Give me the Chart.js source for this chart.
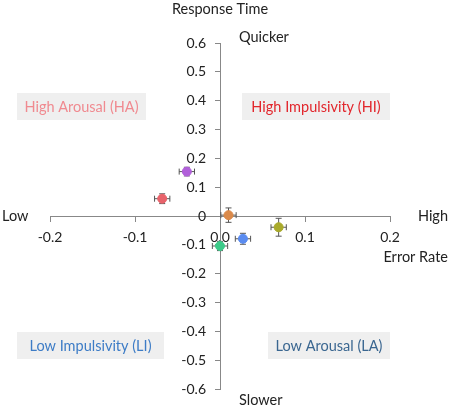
<!DOCTYPE html>
<html>
<head>
<meta charset="utf-8">
<script src="https://cdn.jsdelivr.net/npm/chart.js@4"></script>
<style>
  body { margin: 0; background: #fff; }
  #wrap { width: 454px; height: 411px; }
</style>
</head>
<body>
<div id="wrap"><canvas id="quadChart" width="454" height="411"></canvas></div>
<script>
// condition means: error rate (x) vs response time (y), with standard errors
const groups = ['red', 'purple', 'orange', 'olive', 'blue', 'green'];
const errorRate = [-0.068, -0.039, 0.010, 0.069, 0.027, 0.000];
const responseTime = [0.060, 0.154, 0.003, -0.039, -0.079, -0.104];
const errorRateSE = [0.009, 0.009, 0.009, 0.009, 0.009, 0.009];
const responseTimeSE = [0.017, 0.015, 0.025, 0.031, 0.019, 0.016];
const pointColors = ['#E8636B', '#B160DA', '#DB8A4A', '#A9AA2B', '#5B8CF0', '#3DCB8A'];

const xTicks = [-0.2, -0.1, 0, 0.1, 0.2];
const yTicks = [-0.6, -0.5, -0.4, -0.3, -0.2, -0.1, 0, 0.1, 0.2, 0.3, 0.4, 0.5, 0.6];

const FONT = 'Lato, "Open Sans", sans-serif';

// error bars, drawn under the markers
const errorBars = {
  id: 'errorBars',
  beforeDatasetsDraw(chart) {
    const ctx = chart.ctx;
    const xs = chart.scales.x, ys = chart.scales.y;
    ctx.save();
    ctx.strokeStyle = '#555';
    ctx.lineWidth = 1;
    const cap = 3;
    errorRate.forEach((xv, i) => {
      const px = xs.getPixelForValue(xv);
      const py = ys.getPixelForValue(responseTime[i]);
      const x1 = xs.getPixelForValue(xv - errorRateSE[i]);
      const x2 = xs.getPixelForValue(xv + errorRateSE[i]);
      const y1 = ys.getPixelForValue(responseTime[i] + responseTimeSE[i]);
      const y2 = ys.getPixelForValue(responseTime[i] - responseTimeSE[i]);
      ctx.beginPath();
      ctx.moveTo(x1, py); ctx.lineTo(x2, py);
      ctx.moveTo(x1, py - cap); ctx.lineTo(x1, py + cap);
      ctx.moveTo(x2, py - cap); ctx.lineTo(x2, py + cap);
      ctx.moveTo(px, y1); ctx.lineTo(px, y2);
      ctx.moveTo(px - cap, y1); ctx.lineTo(px + cap, y1);
      ctx.moveTo(px - cap, y2); ctx.lineTo(px + cap, y2);
      ctx.stroke();
    });
    ctx.restore();
  }
};

const fmt = v => Math.abs(v) < 1e-9 ? '0' : v.toFixed(1);

// y tick labels: the centred axis puts them flush on the line, so set them off a bit
const yLabels = {
  id: 'yLabels',
  afterDraw(chart) {
    const ctx = chart.ctx;
    const ys = chart.scales.y;
    const axisX = chart.scales.x.getPixelForValue(0);
    ctx.save();
    ctx.font = '14px ' + FONT;
    ctx.fillStyle = '#222';
    ctx.textAlign = 'right';
    ctx.textBaseline = 'middle';
    ys.ticks.forEach(t => {
      ctx.fillText(fmt(t.value), axisX - 14, ys.getPixelForValue(t.value));
    });
    ctx.restore();
  }
};

// axis titles and quadrant labels
const annotations = {
  id: 'annotations',
  afterDraw(chart) {
    const ctx = chart.ctx;
    ctx.save();
    ctx.font = '14.5px ' + FONT;
    ctx.textBaseline = 'middle';
    ctx.fillStyle = '#222';
    ctx.textAlign = 'center';
    ctx.fillText('Response Time', 220, 9);
    ctx.textAlign = 'left';
    ctx.fillText('Quicker', 239, 37);
    ctx.fillText('Slower', 239, 400);
    ctx.fillText('Low', 2, 216);
    ctx.textAlign = 'right';
    ctx.fillText('High', 448, 216);
    ctx.fillText('Error Rate', 448, 257);

    const boxes = [
      ['High Arousal (HA)', 17, 93, 129, '#F08A90'],
      ['High Impulsivity (HI)', 242, 93, 148, '#E2262C'],
      ['Low Impulsivity (LI)', 17, 332, 147, '#3D7CC6'],
      ['Low Arousal (LA)', 268, 332, 122, '#3A6690']
    ];
    boxes.forEach(([txt, x, y, w, col]) => {
      ctx.fillStyle = '#EFEFEF';
      ctx.fillRect(x, y, w, 27);
      ctx.fillStyle = col;
      ctx.textAlign = 'center';
      ctx.fillText(txt, x + w / 2, y + 14);
    });
    ctx.restore();
  }
};

new Chart(document.getElementById('quadChart'), {
  type: 'scatter',
  data: {
    datasets: [{
      label: 'conditions',
      data: errorRate.map((x, i) => ({ x: x, y: responseTime[i] })),
      backgroundColor: pointColors,
      borderColor: pointColors,
      pointRadius: 4.5,
      pointHoverRadius: 4.5
    }]
  },
  options: {
    responsive: false,
    animation: false,
    layout: { padding: { left: 50, right: 64, top: 43, bottom: 22 } },
    plugins: { legend: { display: false }, tooltip: { enabled: false } },
    scales: {
      x: {
        type: 'linear',
        position: { y: 0 },
        min: -0.2, max: 0.2,
        afterBuildTicks: axis => { axis.ticks = xTicks.map(v => ({ value: v })); },
        ticks: {
          callback: v => v.toFixed(1),
          color: '#222', font: { family: FONT, size: 14 }, padding: 8, maxRotation: 0
        },
        grid: { drawOnChartArea: false, drawTicks: true, tickLength: 5, color: '#888' },
        border: { display: true, color: '#888' }
      },
      y: {
        type: 'linear',
        position: { x: 0 },
        min: -0.6, max: 0.6,
        afterBuildTicks: axis => { axis.ticks = yTicks.map(v => ({ value: v })); },
        ticks: { display: false },
        grid: { drawOnChartArea: false, drawTicks: true, tickLength: 5, color: '#888' },
        border: { display: true, color: '#888' }
      }
    }
  },
  plugins: [errorBars, yLabels, annotations]
});
</script>
</body>
</html>
